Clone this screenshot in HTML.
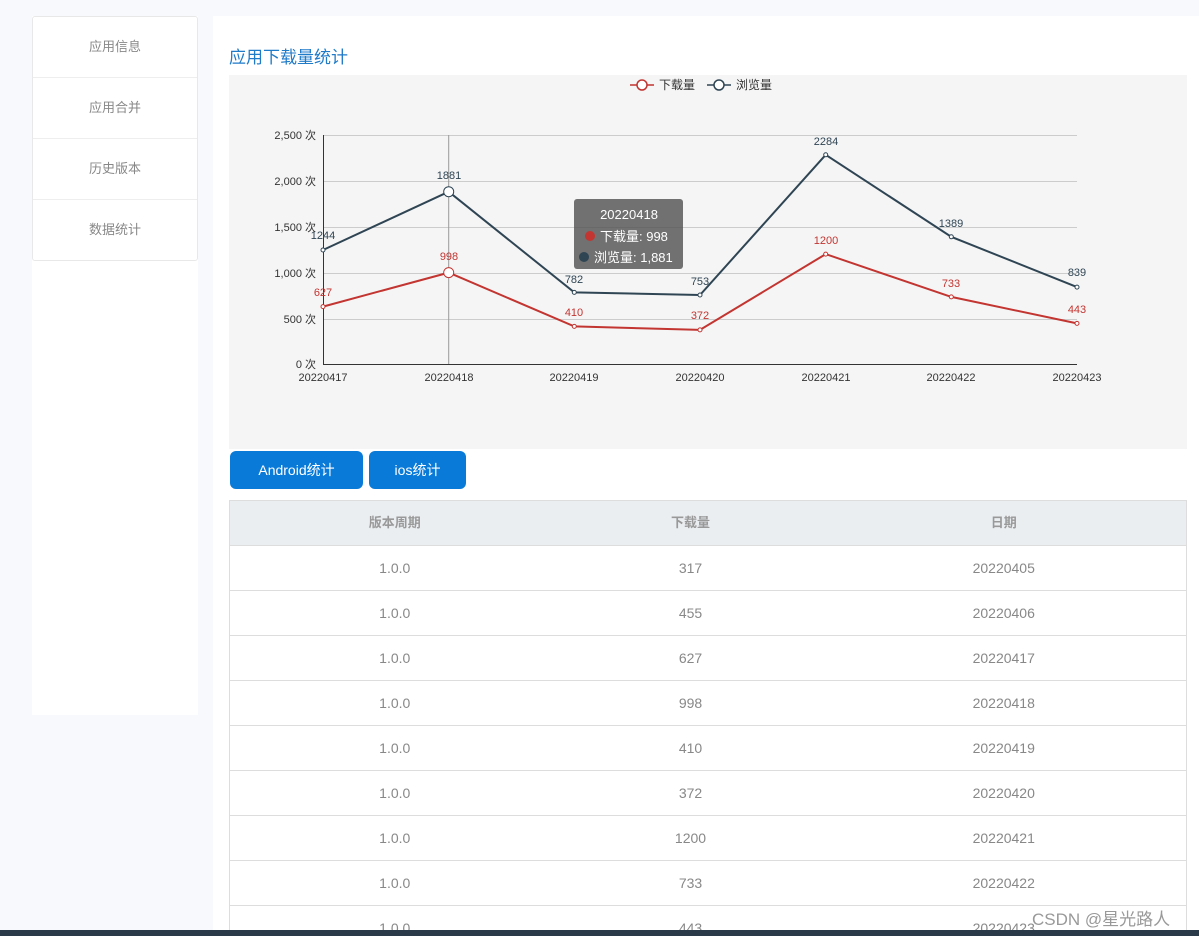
<!DOCTYPE html><html style="overflow:hidden;height:936px"><head><meta charset="utf-8"><style>
body{margin:0;width:1199px;height:936px;background:#f8f9fd;font-family:"Liberation Sans","Noto Sans CJK SC",sans-serif;position:relative;overflow:hidden}
.side{position:absolute;left:32px;top:16px;width:166px;height:699px;background:#fff}
.menu{border:1px solid #e8e8e8;border-radius:3px}
.menu div{height:60px;line-height:60px;text-align:center;font-size:13px;color:#888;border-bottom:1px solid #eee}
.menu div:last-child{border-bottom:none}
.main{position:absolute;left:213px;top:16px;width:986px;height:920px;background:#fff}
.title{position:absolute;left:229px;top:43px;font-size:17px;color:#1f7ac8}
.btn{position:absolute;top:451px;height:38px;line-height:38px;background:#0a7ad9;color:#fff;border-radius:6px;text-align:center;font-size:14px}
.wrap{position:absolute;left:229px;top:500px;width:958px;height:430px;overflow:hidden}
table{width:958px;border-collapse:collapse;font-size:14px;color:#888;table-layout:fixed;border-left:1px solid #ddd;border-right:1px solid #ddd;border-top:1px solid #ddd}
td,th{height:44px;padding:0;line-height:44px;text-align:center;border-bottom:1px solid #ddd;font-weight:normal}
th{background:#ebeef1;font-weight:bold;font-size:13px;color:#999}
.task{position:absolute;left:0;top:930px;width:1199px;height:6px;background:#2a3a48}
</style></head><body>
<div class="side"><div class="menu"><div>应用信息</div><div>应用合并</div><div>历史版本</div><div>数据统计</div></div></div>
<div class="main"></div>
<div class="title">应用下载量统计</div>
<svg style="position:absolute;left:0;top:0" width="1199" height="936" font-family="Liberation Sans,Noto Sans CJK SC,sans-serif" font-size="11">
<rect x="229" y="75" width="958" height="374" fill="#f5f5f5"/>
<g stroke="#ccc" stroke-width="1">
<line x1="323" x2="1077" y1="135.5" y2="135.5"/><line x1="323" x2="1077" y1="181.5" y2="181.5"/><line x1="323" x2="1077" y1="227.5" y2="227.5"/><line x1="323" x2="1077" y1="273.5" y2="273.5"/><line x1="323" x2="1077" y1="319.5" y2="319.5"/>
</g>
<line x1="448.7" x2="448.7" y1="135" y2="364" stroke="#999"/>
<line x1="323" x2="1077" y1="364.5" y2="364.5" stroke="#333"/><line x1="323.5" x2="323.5" y1="135" y2="364" stroke="#333"/>
<g fill="#333" text-anchor="end"><text x="316" y="139">2,500 次</text><text x="316" y="185">2,000 次</text><text x="316" y="231">1,500 次</text><text x="316" y="277">1,000 次</text><text x="316" y="323">500 次</text><text x="316" y="368">0 次</text></g>
<g fill="#333" text-anchor="middle"><text x="323" y="381">20220417</text><text x="449" y="381">20220418</text><text x="574" y="381">20220419</text><text x="700" y="381">20220420</text><text x="826" y="381">20220421</text><text x="951" y="381">20220422</text><text x="1077" y="381">20220423</text></g>
<polyline fill="none" stroke="#2f4554" stroke-width="2" points="323,250 448.7,191.7 574.3,292.4 700,295 825.7,154.8 951.3,236.8 1077,287.1"/>
<polyline fill="none" stroke="#c23531" stroke-width="2" points="323,306.6 448.7,272.6 574.3,326.4 700,329.9 825.7,254.1 951.3,296.9 1077,323.4"/>
<g fill="#fff" stroke="#2f4554"><circle cx="323" cy="250" r="2"/><circle cx="448.7" cy="191.7" r="5"/><circle cx="574.3" cy="292.4" r="2"/><circle cx="700" cy="295" r="2"/><circle cx="825.7" cy="154.8" r="2"/><circle cx="951.3" cy="236.8" r="2"/><circle cx="1077" cy="287.1" r="2"/></g>
<g fill="#fff" stroke="#c23531"><circle cx="323" cy="306.6" r="2"/><circle cx="448.7" cy="272.6" r="5"/><circle cx="574.3" cy="326.4" r="2"/><circle cx="700" cy="329.9" r="2"/><circle cx="825.7" cy="254.1" r="2"/><circle cx="951.3" cy="296.9" r="2"/><circle cx="1077" cy="323.4" r="2"/></g>
<g fill="#2f4554" text-anchor="middle"><text x="323" y="239">1244</text><text x="449" y="179">1881</text><text x="574" y="283">782</text><text x="700" y="285">753</text><text x="826" y="145">2284</text><text x="951" y="227">1389</text><text x="1077" y="276">839</text></g>
<g fill="#c23531" text-anchor="middle"><text x="323" y="296">627</text><text x="449" y="260">998</text><text x="574" y="316">410</text><text x="700" y="319">372</text><text x="826" y="244">1200</text><text x="951" y="287">733</text><text x="1077" y="313">443</text></g>
<g stroke-width="1.5"><line x1="630" x2="654" y1="85" y2="85" stroke="#c23531"/><circle cx="642" cy="85" r="5" fill="#fff" stroke="#c23531"/>
<line x1="707" x2="731" y1="85" y2="85" stroke="#2f4554"/><circle cx="719" cy="85" r="5" fill="#fff" stroke="#2f4554"/></g>
<text x="659" y="89" fill="#333" font-size="12">下载量</text><text x="736" y="89" fill="#333" font-size="12">浏览量</text>
<rect x="574" y="199" width="109" height="70" rx="3" fill="rgba(80,80,80,0.8)"/>
<g fill="#fff" font-size="13"><text x="629" y="219" text-anchor="middle">20220418</text><text x="600" y="241">下载量: 998</text><text x="594" y="262">浏览量: 1,881</text></g>
<circle cx="590" cy="236" r="5" fill="#c23531"/><circle cx="584" cy="257" r="5" fill="#2f4554"/>
</svg>
<div class="btn" style="left:230px;width:133px">Android统计</div>
<div class="btn" style="left:369px;width:97px">ios统计</div>
<div class="wrap"><table><colgroup><col style="width:330px"><col style="width:262px"><col></colgroup>
<tr><th>版本周期</th><th>下载量</th><th>日期</th></tr>
<tr><td>1.0.0</td><td>317</td><td>20220405</td></tr>
<tr><td>1.0.0</td><td>455</td><td>20220406</td></tr>
<tr><td>1.0.0</td><td>627</td><td>20220417</td></tr>
<tr><td>1.0.0</td><td>998</td><td>20220418</td></tr>
<tr><td>1.0.0</td><td>410</td><td>20220419</td></tr>
<tr><td>1.0.0</td><td>372</td><td>20220420</td></tr>
<tr><td>1.0.0</td><td>1200</td><td>20220421</td></tr>
<tr><td>1.0.0</td><td>733</td><td>20220422</td></tr>
<tr><td>1.0.0</td><td>443</td><td>20220423</td></tr></table></div>
<div style="position:absolute;left:1032px;top:905px;font-size:17px;color:#999">CSDN @星光路人</div>
<div class="task"></div>
</body></html>
